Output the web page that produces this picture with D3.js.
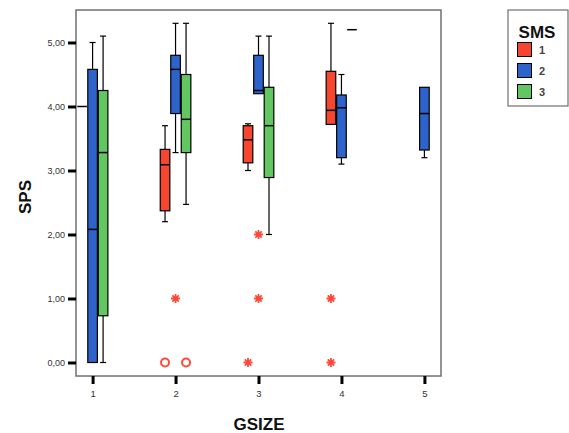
<!DOCTYPE html>
<html>
<head>
<meta charset="utf-8">
<script src="https://cdn.jsdelivr.net/npm/d3@7"></script>
<style>
  body { margin: 0; background: #fff; }
  svg { display: block; font-family: "Liberation Sans", Arial, sans-serif; }
</style>
</head>
<body>
<svg id="chart" width="569" height="433"></svg>
<script>
// ---- data ----
const gsizeTicks = [1, 2, 3, 4, 5];
const spsTicks = [0, 1, 2, 3, 4, 5];
const smsSeries = ["1", "2", "3"];
const smsColors = ["#f6462f", "#2f63cc", "#62c761"];

// box stats per SMS series: [gsize, lowWhisker, q1, median, q3, highWhisker]
const sms1Boxes = [
  [1, 4.00, 4.00, 4.00, 4.00, 4.00],
  [2, 2.20, 2.37, 3.09, 3.33, 3.70],
  [3, 3.00, 3.12, 3.48, 3.70, 3.73],
  [4, 3.72, 3.72, 3.94, 4.55, 5.30]
];
const sms2Boxes = [
  [1, 0.00, 0.00, 2.08, 4.58, 5.00],
  [2, 3.28, 3.89, 4.58, 4.80, 5.30],
  [3, 4.20, 4.20, 4.25, 4.80, 5.10],
  [4, 3.10, 3.20, 3.98, 4.18, 4.50],
  [5, 3.20, 3.32, 3.89, 4.30, 4.30]
];
const sms3Boxes = [
  [1, 0.00, 0.73, 3.28, 4.25, 5.10],
  [2, 2.47, 3.28, 3.80, 4.50, 5.30],
  [3, 2.00, 2.89, 3.70, 4.30, 5.10],
  [4, 5.20, 5.20, 5.20, 5.20, 5.20]
];
// outliers (SMS 1): [gsize, value, kind, slot(-1,0,1 position among series)]
const outliers = [
  [2, 1, "extreme", 0],
  [2, 0, "outlier", -1],
  [2, 0, "outlier", 1],
  [3, 2, "extreme", 0],
  [3, 1, "extreme", 0],
  [3, 0, "extreme", -1],
  [4, 1, "extreme", -1],
  [4, 0, "extreme", -1]
];

// ---- drawing ----
const svg = d3.select("#chart");
const frame = { left: 76, top: 10, right: 441, bottom: 376 };

const x = d3.scaleLinear().domain([0.8, 5.2]).range([frame.left, frame.right]);
const y = d3.scaleLinear().domain([0, 5]).range([362.5, 42.5]);
const offset = d3.scalePoint().domain(smsSeries).range([-10.5, 10.5]);
const slotScale = d3.scaleLinear().domain([-1, 1]).range([-10.5, 10.5]);
const boxW = 9.6;
const capW = 6;

// frame
svg.append("rect")
  .attr("x", frame.left).attr("y", frame.top)
  .attr("width", frame.right - frame.left).attr("height", frame.bottom - frame.top)
  .attr("fill", "none").attr("stroke", "#707070").attr("stroke-width", 1.5);

// y axis
const yAxis = svg.append("g")
  .attr("transform", `translate(${frame.left},0)`)
  .call(d3.axisLeft(y).tickValues(spsTicks).tickSize(8).tickPadding(3)
    .tickFormat(d => d.toFixed(2).replace(".", ",")));
yAxis.select(".domain").remove();
yAxis.selectAll(".tick line").attr("stroke", "#000").attr("stroke-width", 3);
yAxis.selectAll(".tick text").attr("font-size", 9).attr("fill", "#333")
  .attr("font-family", "Liberation Sans, Arial, sans-serif");

// x axis
const xAxis = svg.append("g")
  .attr("transform", `translate(0,${frame.bottom})`)
  .call(d3.axisBottom(x).tickValues(gsizeTicks).tickSize(8).tickPadding(6)
    .tickFormat(d3.format("d")));
xAxis.select(".domain").remove();
xAxis.selectAll(".tick line").attr("stroke", "#000").attr("stroke-width", 3);
xAxis.selectAll(".tick text").attr("font-size", 9.5).attr("fill", "#333")
  .attr("font-family", "Liberation Sans, Arial, sans-serif");

// axis titles
svg.append("text")
  .attr("x", 259).attr("y", 430)
  .attr("text-anchor", "middle")
  .attr("font-size", 17).attr("font-weight", "bold").attr("fill", "#111")
  .text("GSIZE");
svg.append("text")
  .attr("transform", "translate(31,197) rotate(-90)")
  .attr("text-anchor", "middle")
  .attr("font-size", 17).attr("font-weight", "bold").attr("fill", "#111")
  .text("SPS");

// boxes
const allBoxes = [sms1Boxes, sms2Boxes, sms3Boxes];
allBoxes.forEach((boxes, si) => {
  const key = smsSeries[si];
  const g = svg.append("g");
  boxes.forEach(b => {
    const [gs, lo, q1, med, q3, hi] = b;
    const cx = x(gs) + offset(key);
    if (hi > q3) {
      g.append("line").attr("x1", cx).attr("x2", cx).attr("y1", y(q3)).attr("y2", y(hi))
        .attr("stroke", "#000").attr("stroke-width", 1.2);
      g.append("line").attr("x1", cx - capW / 2).attr("x2", cx + capW / 2).attr("y1", y(hi)).attr("y2", y(hi))
        .attr("stroke", "#000").attr("stroke-width", 1.2);
    }
    if (lo < q1) {
      g.append("line").attr("x1", cx).attr("x2", cx).attr("y1", y(q1)).attr("y2", y(lo))
        .attr("stroke", "#000").attr("stroke-width", 1.2);
      g.append("line").attr("x1", cx - capW / 2).attr("x2", cx + capW / 2).attr("y1", y(lo)).attr("y2", y(lo))
        .attr("stroke", "#000").attr("stroke-width", 1.2);
    }
    if (q3 > q1) {
      g.append("rect")
        .attr("x", cx - boxW / 2).attr("y", y(q3))
        .attr("width", boxW).attr("height", y(q1) - y(q3))
        .attr("fill", smsColors[si]).attr("stroke", "#000").attr("stroke-width", 1.2);
    }
    g.append("line")
      .attr("x1", cx - boxW / 2).attr("x2", cx + boxW / 2)
      .attr("y1", y(med)).attr("y2", y(med))
      .attr("stroke", "#000").attr("stroke-width", 1.5);
  });
});

// outliers
const outColor = "#ff4a3a";
function starPath(r) {
  const p = d3.path();
  for (let k = 0; k < 4; k++) {
    const a = k * Math.PI / 4;
    p.moveTo(-r * Math.cos(a), -r * Math.sin(a));
    p.lineTo(r * Math.cos(a), r * Math.sin(a));
  }
  return p.toString();
}
outliers.forEach(o => {
  const [gs, v, kind, slot] = o;
  const cx = x(gs) + slotScale(slot);
  if (kind === "outlier") {
    svg.append("circle").attr("cx", cx).attr("cy", y(v)).attr("r", 4)
      .attr("fill", "none").attr("stroke", outColor).attr("stroke-width", 2);
  } else {
    svg.append("path").attr("d", starPath(4.5))
      .attr("transform", `translate(${cx},${y(v)})`)
      .attr("fill", "none").attr("stroke", outColor).attr("stroke-width", 1.8);
  }
});

// legend
const lg = svg.append("g");
lg.append("rect").attr("x", 508).attr("y", 10).attr("width", 60).attr("height", 96)
  .attr("fill", "#fff").attr("stroke", "#707070").attr("stroke-width", 1.2);
lg.append("text").attr("x", 537).attr("y", 38).attr("text-anchor", "middle")
  .attr("font-size", 17).attr("font-weight", "bold").attr("fill", "#111").text("SMS");
smsSeries.forEach((s, i) => {
  lg.append("rect").attr("x", 517.5).attr("y", 42.5 + i * 21)
    .attr("width", 14).attr("height", 14)
    .attr("fill", smsColors[i]).attr("stroke", "#000").attr("stroke-width", 1);
  lg.append("text").attr("x", 539).attr("y", 54 + i * 21)
    .attr("font-size", 11).attr("font-weight", "bold").attr("fill", "#444").text(s);
});
</script>
</body>
</html>
